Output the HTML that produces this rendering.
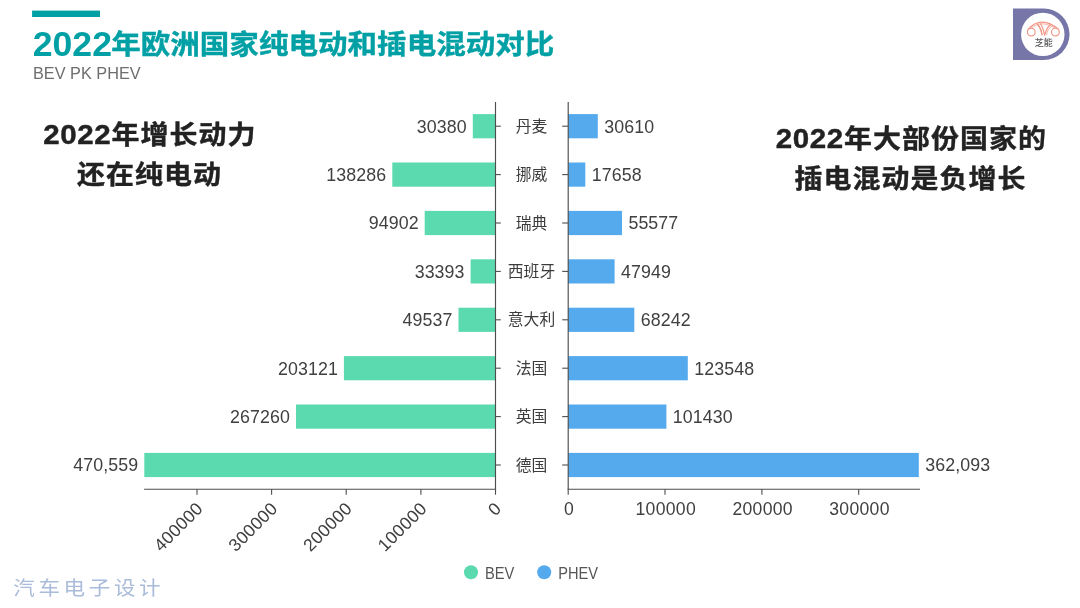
<!DOCTYPE html>
<html lang="zh-CN">
<head>
<meta charset="utf-8">
<title>2022年欧洲国家纯电动和插电混动对比</title>
<style>
html,body{margin:0;padding:0;background:#fff;}
body{width:1080px;height:608px;overflow:hidden;font-family:'Liberation Sans','Noto Sans CJK SC',sans-serif;}
svg{display:block;}
text{font-family:'Liberation Sans','Noto Sans CJK SC',sans-serif;}
.val{font-size:17.8px;fill:#404040;letter-spacing:0.1px;}
.cat{font-size:15.8px;fill:#3c3c3c;}
.tick{font-size:17.6px;fill:#404040;letter-spacing:0.3px;}
.head{font-size:26px;font-weight:700;fill:#222;letter-spacing:0.98px;stroke:#222;stroke-width:0.4px;stroke-linejoin:round;}
</style>
</head>
<body>
<svg width="1080" height="608" viewBox="0 0 1080 608">
<rect width="1080" height="608" fill="#ffffff"/>

<rect x="32.1" y="10.6" width="67.9" height="6.4" fill="#00a0a5"/>
<text x="32.8" y="55.7" fill="#00a0a5" font-weight="700" font-size="35.6" letter-spacing="0">2022</text>
<text transform="translate(111.2,53.6) scale(1.075,1)" fill="#00a0a5" stroke="#00a0a5" stroke-width="0.4" stroke-linejoin="round" font-weight="700" font-size="27.5" letter-spacing="0">年欧洲国家纯电动和插电混动对比</text>
<text x="33" y="78.6" fill="#6e6e6e" font-size="16.3">BEV PK PHEV</text>
<text class="head" transform="translate(149.8,143.6) scale(1.075,1)" text-anchor="middle"><tspan font-size="27.5" letter-spacing="0.57">2022</tspan>年增长动力</text>
<text class="head" transform="translate(149.5,184.2) scale(1.075,1)" text-anchor="middle">还在纯电动</text>
<text class="head" transform="translate(911.3,148.1) scale(1.075,1)" text-anchor="middle"><tspan font-size="27.5" letter-spacing="0.57">2022</tspan>年大部份国家的</text>
<text class="head" transform="translate(910.5,188.1) scale(1.075,1)" text-anchor="middle">插电混动是负增长</text>
<rect x="472.8" y="114.1" width="22.7" height="24.2" fill="#5bdab0"/>
<text class="val" x="466.8" y="132.6" text-anchor="end">30380</text>
<rect x="568.2" y="114.1" width="29.6" height="24.2" fill="#55aaee"/>
<text class="val" x="604.2" y="132.6">30610</text>
<text class="cat" x="531.5" y="131.8" text-anchor="middle">丹麦</text>
<line x1="495.5" x2="500.8" y1="126.2" y2="126.2" stroke="#4d4d4d" stroke-width="1.1"/>
<line x1="562.2" x2="568.2" y1="126.2" y2="126.2" stroke="#4d4d4d" stroke-width="1.1"/>
<rect x="392.3" y="162.5" width="103.2" height="24.2" fill="#5bdab0"/>
<text class="val" x="386.3" y="181.0" text-anchor="end">138286</text>
<rect x="568.2" y="162.5" width="17.1" height="24.2" fill="#55aaee"/>
<text class="val" x="591.7" y="181.0">17658</text>
<text class="cat" x="531.5" y="180.2" text-anchor="middle">挪威</text>
<line x1="495.5" x2="500.8" y1="174.6" y2="174.6" stroke="#4d4d4d" stroke-width="1.1"/>
<line x1="562.2" x2="568.2" y1="174.6" y2="174.6" stroke="#4d4d4d" stroke-width="1.1"/>
<rect x="424.7" y="210.9" width="70.8" height="24.2" fill="#5bdab0"/>
<text class="val" x="418.7" y="229.4" text-anchor="end">94902</text>
<rect x="568.2" y="210.9" width="53.8" height="24.2" fill="#55aaee"/>
<text class="val" x="628.4" y="229.4">55577</text>
<text class="cat" x="531.5" y="228.6" text-anchor="middle">瑞典</text>
<line x1="495.5" x2="500.8" y1="223.0" y2="223.0" stroke="#4d4d4d" stroke-width="1.1"/>
<line x1="562.2" x2="568.2" y1="223.0" y2="223.0" stroke="#4d4d4d" stroke-width="1.1"/>
<rect x="470.6" y="259.3" width="24.9" height="24.2" fill="#5bdab0"/>
<text class="val" x="464.6" y="277.8" text-anchor="end">33393</text>
<rect x="568.2" y="259.3" width="46.4" height="24.2" fill="#55aaee"/>
<text class="val" x="621.0" y="277.8">47949</text>
<text class="cat" x="531.5" y="277.0" text-anchor="middle">西班牙</text>
<line x1="495.5" x2="500.8" y1="271.4" y2="271.4" stroke="#4d4d4d" stroke-width="1.1"/>
<line x1="562.2" x2="568.2" y1="271.4" y2="271.4" stroke="#4d4d4d" stroke-width="1.1"/>
<rect x="458.5" y="307.7" width="37.0" height="24.2" fill="#5bdab0"/>
<text class="val" x="452.5" y="326.2" text-anchor="end">49537</text>
<rect x="568.2" y="307.7" width="66.1" height="24.2" fill="#55aaee"/>
<text class="val" x="640.7" y="326.2">68242</text>
<text class="cat" x="531.5" y="325.4" text-anchor="middle">意大利</text>
<line x1="495.5" x2="500.8" y1="319.8" y2="319.8" stroke="#4d4d4d" stroke-width="1.1"/>
<line x1="562.2" x2="568.2" y1="319.8" y2="319.8" stroke="#4d4d4d" stroke-width="1.1"/>
<rect x="343.9" y="356.1" width="151.6" height="24.2" fill="#5bdab0"/>
<text class="val" x="337.9" y="374.6" text-anchor="end">203121</text>
<rect x="568.2" y="356.1" width="119.6" height="24.2" fill="#55aaee"/>
<text class="val" x="694.2" y="374.6">123548</text>
<text class="cat" x="531.5" y="373.8" text-anchor="middle">法国</text>
<line x1="495.5" x2="500.8" y1="368.2" y2="368.2" stroke="#4d4d4d" stroke-width="1.1"/>
<line x1="562.2" x2="568.2" y1="368.2" y2="368.2" stroke="#4d4d4d" stroke-width="1.1"/>
<rect x="296.0" y="404.5" width="199.5" height="24.2" fill="#5bdab0"/>
<text class="val" x="290.0" y="423.0" text-anchor="end">267260</text>
<rect x="568.2" y="404.5" width="98.2" height="24.2" fill="#55aaee"/>
<text class="val" x="672.8" y="423.0">101430</text>
<text class="cat" x="531.5" y="422.2" text-anchor="middle">英国</text>
<line x1="495.5" x2="500.8" y1="416.6" y2="416.6" stroke="#4d4d4d" stroke-width="1.1"/>
<line x1="562.2" x2="568.2" y1="416.6" y2="416.6" stroke="#4d4d4d" stroke-width="1.1"/>
<rect x="144.3" y="452.9" width="351.2" height="24.2" fill="#5bdab0"/>
<text class="val" x="138.3" y="471.4" text-anchor="end">470,559</text>
<rect x="568.2" y="452.9" width="350.6" height="24.2" fill="#55aaee"/>
<text class="val" x="925.2" y="471.4">362,093</text>
<text class="cat" x="531.5" y="470.6" text-anchor="middle">德国</text>
<line x1="495.5" x2="500.8" y1="465.0" y2="465.0" stroke="#4d4d4d" stroke-width="1.1"/>
<line x1="562.2" x2="568.2" y1="465.0" y2="465.0" stroke="#4d4d4d" stroke-width="1.1"/>
<line x1="495.5" x2="495.5" y1="102.0" y2="489.2" stroke="#4d4d4d" stroke-width="1.15"/>
<line x1="568.2" x2="568.2" y1="102.0" y2="489.2" stroke="#4d4d4d" stroke-width="1.15"/>
<line x1="144.1" x2="496.15" y1="489.2" y2="489.2" stroke="#4d4d4d" stroke-width="1.15"/>
<line x1="567.5500000000001" x2="920.0" y1="489.2" y2="489.2" stroke="#4d4d4d" stroke-width="1.15"/>
<line x1="495.5" x2="495.5" y1="489.2" y2="494.7" stroke="#4d4d4d" stroke-width="1.1"/>
<text class="tick" text-anchor="end" transform="translate(502.5,509.7) rotate(-45)">0</text>
<line x1="420.9" x2="420.9" y1="489.2" y2="494.7" stroke="#4d4d4d" stroke-width="1.1"/>
<text class="tick" text-anchor="end" transform="translate(427.9,509.7) rotate(-45)">100000</text>
<line x1="346.2" x2="346.2" y1="489.2" y2="494.7" stroke="#4d4d4d" stroke-width="1.1"/>
<text class="tick" text-anchor="end" transform="translate(353.2,509.7) rotate(-45)">200000</text>
<line x1="271.6" x2="271.6" y1="489.2" y2="494.7" stroke="#4d4d4d" stroke-width="1.1"/>
<text class="tick" text-anchor="end" transform="translate(278.6,509.7) rotate(-45)">300000</text>
<line x1="197.0" x2="197.0" y1="489.2" y2="494.7" stroke="#4d4d4d" stroke-width="1.1"/>
<text class="tick" text-anchor="end" transform="translate(204.0,509.7) rotate(-45)">400000</text>
<line x1="568.2" x2="568.2" y1="489.2" y2="494.7" stroke="#4d4d4d" stroke-width="1.1"/>
<text class="tick" text-anchor="middle" x="569.0" y="515.2">0</text>
<line x1="665.0" x2="665.0" y1="489.2" y2="494.7" stroke="#4d4d4d" stroke-width="1.1"/>
<text class="tick" text-anchor="middle" x="665.8" y="515.2">100000</text>
<line x1="761.9" x2="761.9" y1="489.2" y2="494.7" stroke="#4d4d4d" stroke-width="1.1"/>
<text class="tick" text-anchor="middle" x="762.7" y="515.2">200000</text>
<line x1="858.7" x2="858.7" y1="489.2" y2="494.7" stroke="#4d4d4d" stroke-width="1.1"/>
<text class="tick" text-anchor="middle" x="859.5" y="515.2">300000</text>
<circle cx="471" cy="572.3" r="7" fill="#5bdab0"/>
<text x="485" y="578.6" font-size="16.5" fill="#555" textLength="29.4" lengthAdjust="spacingAndGlyphs">BEV</text>
<circle cx="544.2" cy="572.3" r="7" fill="#55aaee"/>
<text x="558.3" y="578.6" font-size="16.5" fill="#555" textLength="39.8" lengthAdjust="spacingAndGlyphs">PHEV</text>
<text transform="translate(13.2,595) scale(1.1,1)" font-size="19.6" font-weight="400" fill="#aabcd9" letter-spacing="3.3">汽车电子设计</text>
<path d="M1013 8.5 H1043.8 A25.75 25.75 0 0 1 1043.8 60 H1013 Z" fill="#7676a8"/>
<circle cx="1042.8" cy="34.4" r="21.7" fill="#ffffff"/>
<g fill="none" stroke="#f39584" stroke-width="1.2" stroke-linecap="round"><circle cx="1031.3" cy="32.1" r="3.9"/><circle cx="1055.4" cy="32.1" r="3.9"/><path d="M1028 29.6 C1031.5 25.5 1036 22.3 1042 22.2 C1048 22.1 1053 24.8 1058.6 29.4"/><path d="M1031.6 27.6 C1034.5 25.3 1038 23.9 1041.6 23.8 C1046 23.8 1050 25 1054.6 27.6" stroke-width="0.9" stroke="#f6ab9d"/><path d="M1037.6 24.6 C1040 27.2 1041.4 30.5 1042 34.8" stroke-width="1.5"/><path d="M1040.6 24 C1042.6 27 1043.8 30.5 1044.6 35.6 C1045.6 30.8 1047.2 27.8 1050 25"/><path d="M1046.6 34.6 C1047.2 31 1049 28 1052 25.8" stroke-width="0.9" stroke="#f6ab9d"/></g>
<text x="1043.8" y="46.4" font-size="9" fill="#5a5a5a" text-anchor="middle" font-weight="500">芝能</text>
</svg>
</body>
</html>
